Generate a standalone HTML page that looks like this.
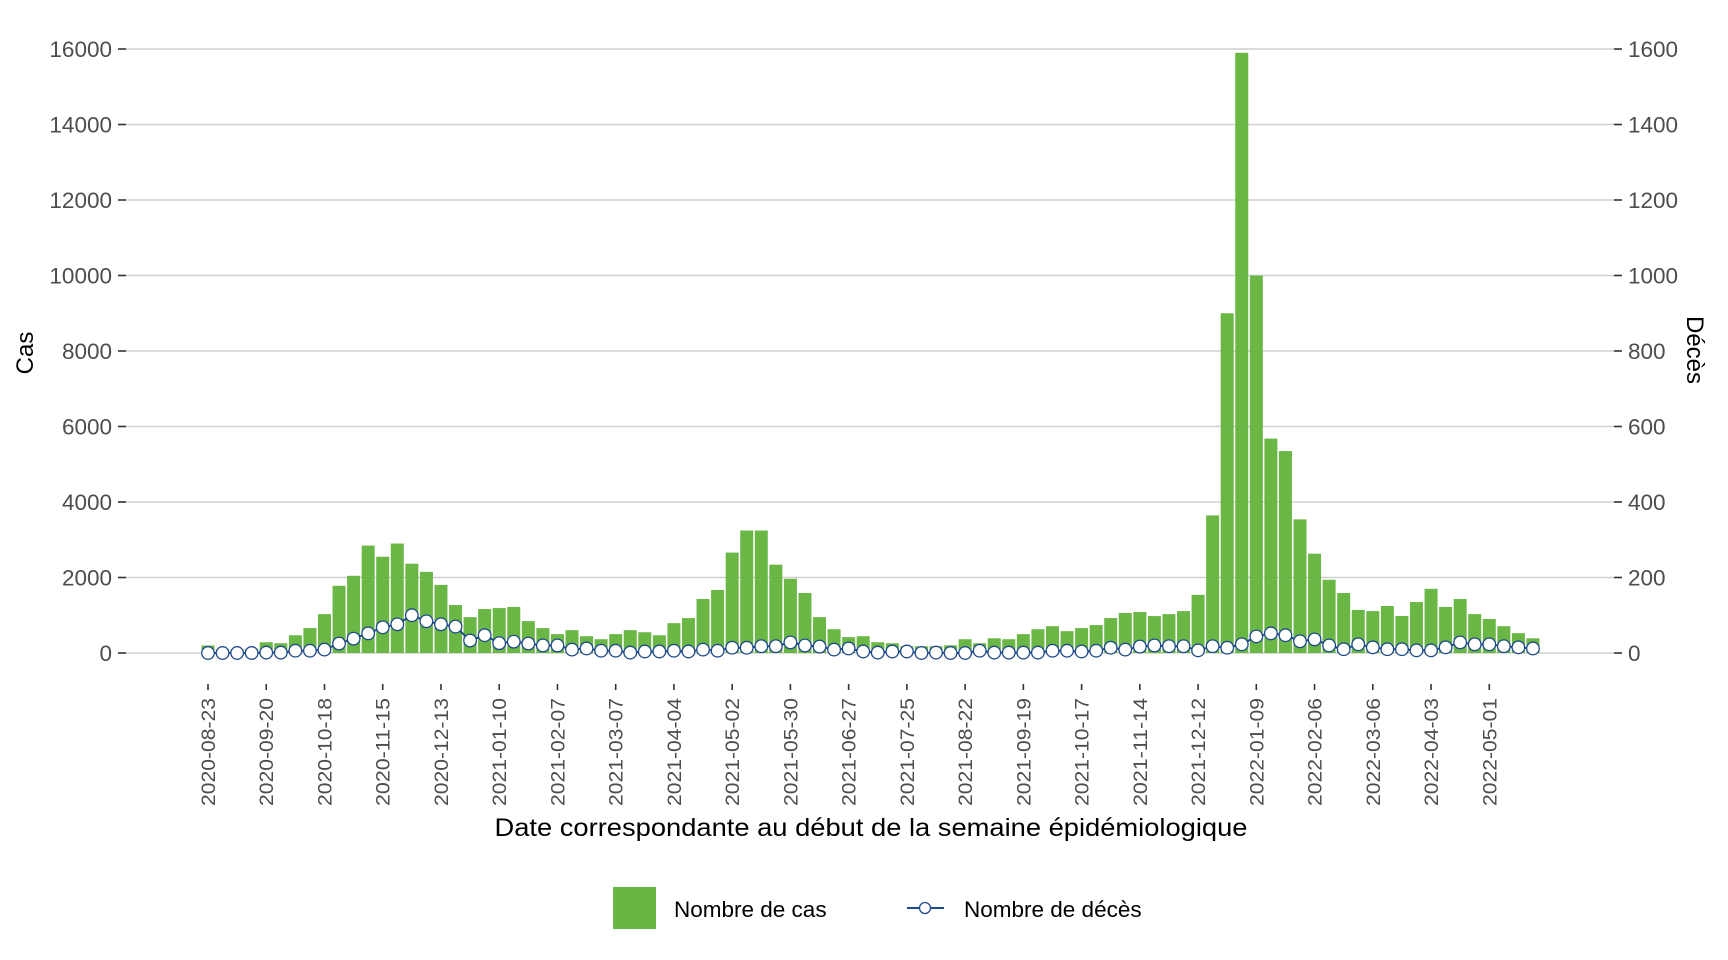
<!DOCTYPE html>
<html><head><meta charset="utf-8"><style>
html,body{margin:0;padding:0;background:#fff;}
svg{display:block;font-family:"Liberation Sans",Arial,sans-serif;}
</style></head><body>
<svg id="chart" width="1728" height="960" viewBox="0 0 1728 960" xmlns="http://www.w3.org/2000/svg">
<g id="grid"></g>
<g id="bars"></g>
<g id="deaths"></g>
<g id="yleft"></g>
<g id="yright"></g>
<g id="xaxis"></g>
<text transform="translate(33,353) rotate(-90)" text-anchor="middle" font-size="24" fill="#000">Cas</text>
<text transform="translate(1687,350) rotate(90)" text-anchor="middle" font-size="24" fill="#000">Décès</text>
<text x="871" y="836" text-anchor="middle" font-size="25" fill="#000" textLength="753" lengthAdjust="spacingAndGlyphs">Date correspondante au début de la semaine épidémiologique</text>
<g transform="translate(-3,-4)">
<rect x="616" y="891" width="43" height="42" fill="#69b645"/>
<text x="677" y="921" font-size="22.5" fill="#000">Nombre de cas</text>
<line x1="910" y1="912" x2="947" y2="912" stroke="#1f4a8a" stroke-width="2"/>
<circle cx="928" cy="912" r="5.5" fill="#fff" stroke="#1f4a8a" stroke-width="1.3"/>
<text x="967" y="921" font-size="22.5" fill="#000">Nombre de décès</text>
</g>
</svg>
<script>
const startDate = "2020-08-23";
const cases = [200,100,100,115,285,258,470,660,1030,1780,2045,2845,2550,2900,2365,2150,1805,1270,950,1165,1190,1220,845,660,500,605,445,365,500,605,550,
470,790,925,1430,1670,2660,3245,3245,2340,1965,1590,950,630,420,445,285,258,178,178,178,204,365,258,390,365,500,630,710,578,660,740,925,1060,1085,
978,1030,1110,1540,3645,9000,15900,10000,5680,5350,3540,2630,1940,1590,1140,1110,1245,980,1350,1700,1220,1430,1030,900,710,525,390];
const deaths = [0,0,0,0,1,1,6,6,9,25,38,52,68,76,100,84,76,70,33,47,26,30,25,20,20,9,12,6,6,1,4,
4,6,4,9,6,14,14,18,18,28,20,17,9,12,4,1,4,4,0,1,0,0,6,1,1,1,1,6,6,4,6,14,9,17,
20,18,18,7,18,14,23,44,52,47,31,36,20,10,23,15,10,10,7,7,15,28,23,23,18,15,12];
const leftTicks = [0,2000,4000,6000,8000,10000,12000,14000,16000];
const rightTicks = [0,200,400,600,800,1000,1200,1400,1600];
const NS="http://www.w3.org/2000/svg";
const X0=208, STEP=14.56, Y0=653, YTOP=49, YMAX=16000, DMAX=1600;
function xs(i){return X0+i*STEP;}
function yc(v){return Y0-(v/YMAX)*(Y0-YTOP);}
function yd(v){return Y0-(v/DMAX)*(Y0-YTOP);}
function mk(tag,attrs,parent){const e=document.createElementNS(NS,tag);for(const k in attrs)e.setAttribute(k,attrs[k]);parent.appendChild(e);return e;}
const grid=document.getElementById('grid'),bars=document.getElementById('bars'),dg=document.getElementById('deaths');
const yl=document.getElementById('yleft'),yr=document.getElementById('yright'),xa=document.getElementById('xaxis');
leftTicks.forEach(t=>{
  const y=yc(t);
  const g=mk('line',{x1:126,x2:1614,y1:y,y2:y,stroke:'#d0d0d0','stroke-width':1.6},grid);
  
  
  const tk=mk('line',{x1:118,x2:126,y1:y,y2:y,stroke:'#333','stroke-width':1.6},yl);
  
  
  const tx=mk('text',{x:112,y:y+8,'text-anchor':'end','font-size':22.5,fill:'#4d4d4d'},yl);
  tx.textContent=t;
  
  
});
rightTicks.forEach(t=>{
  const y=yd(t);
  const tk=mk('line',{x1:1614,x2:1622,y1:y,y2:y,stroke:'#333','stroke-width':1.6},yr);
  
  
  const tx=mk('text',{x:1628,y:y+8,'font-size':22.5,fill:'#4d4d4d'},yr);
  tx.textContent=t;
  
  
});
cases.forEach((v,i)=>{
  const y=yc(v);
  const r=mk('rect',{x:xs(i)-6.5,y:y,width:13,height:Y0-y,fill:'#5fb238','fill-opacity':0.93},bars);
  
  
});
const pts=deaths.map((v,i)=>xs(i)+','+yd(v)).join(' ');
const pl=mk('polyline',{points:pts,fill:'none',stroke:'#1f4a8a','stroke-width':2},dg);


deaths.forEach((v,i)=>{
  const c=mk('circle',{cx:xs(i),cy:yd(v),r:6.3,fill:'#fff',stroke:'#1f4a8a','stroke-width':1.3},dg);
  
  
});
const d0=new Date(startDate+"T00:00:00Z");
for(let i=0;i<cases.length;i+=4){
  const d=new Date(d0.getTime()+i*7*86400000);
  const lab=d.toISOString().slice(0,10);
  const x=xs(i);
  const tk=mk('line',{x1:x,x2:x,y1:684,y2:690,stroke:'#333','stroke-width':1.6},xa);
  
  
  const tx=mk('text',{transform:'translate('+(x+7)+',806) rotate(-90)','font-size':19.5,fill:'#4d4d4d',textLength:108,lengthAdjust:'spacingAndGlyphs'},xa);
  tx.textContent=lab;
  
  
}
</script>
</body></html>
